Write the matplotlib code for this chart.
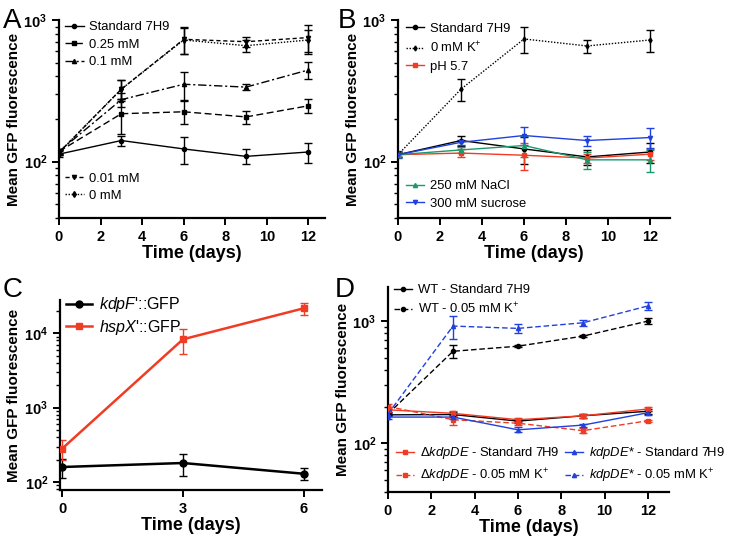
import matplotlib
matplotlib.use('Agg')
import matplotlib.pyplot as plt

plt.rcParams['font.family'] = ['Liberation Sans', 'DejaVu Sans']
plt.rcParams['mathtext.fontset'] = 'custom'
plt.rcParams['mathtext.rm'] = 'Liberation Sans'
plt.rcParams['mathtext.it'] = 'Liberation Sans:italic'
plt.rcParams['mathtext.bf'] = 'Liberation Sans:bold'

RED = '#f03c24'
BLUE = '#2040e0'
GREEN = '#1a9a6c'

days = [0, 3, 6, 9, 12]
days_c = [0, 3, 6]

# panel A - K+ concentrations
a_std = [113, 141, 123, 109, 117]
a_std_err = [5, 11, 26, 13, 19]
a_025 = [118, 218, 225, 207, 248]
a_025_err = [5, 60, 42, 22, 27]
a_01 = [118, 274, 352, 336, 444]
a_01_err = [5, 30, 80, 15, 58]
a_001 = [116, 325, 731, 703, 752]
a_001_err = [5, 50, 157, 60, 175]
a_0 = [116, 325, 723, 659, 723]
a_0_err = [5, 55, 150, 60, 130]

# panel B - other stresses
b_std = [112, 141, 123, 108, 117]
b_std_err = [5, 11, 26, 13, 19]
b_k0 = [112, 325, 735, 656, 723]
b_k0_err = [5, 58, 152, 70, 125]
b_ph = [112, 115, 111, 106, 113]
b_ph_err = [5, 7, 24, 8, 10]
b_nacl = [112, 121, 130, 103, 103]
b_nacl_err = [5, 6, 22, 14, 18]
b_suc = [112, 137, 153, 141, 148]
b_suc_err = [6, 6, 22, 12, 24]

# panel C - reporters
c_kdpf = [159, 180, 129]
c_kdpf_err = [45, 58, 23]
c_hspx = [280, 8300, 21700]
c_hspx_err = [85, 3000, 4000]

# panel D - strains
d_wt_std = [171, 172, 152, 168, 183]
d_wt_std_err = [5, 8, 6, 6, 8]
d_wt_k = [174, 566, 623, 753, 1000]
d_wt_k_err = [5, 70, 10, 10, 50]
d_dk_std = [188, 176, 156, 168, 191]
d_dk_std_err = [8, 8, 6, 6, 6]
d_dk_k = [200, 156, 146, 127, 153]
d_dk_k_err = [8, 15, 6, 6, 3]
d_kd_std = [164, 164, 129, 141, 178]
d_kd_std_err = [5, 6, 6, 4, 6]
d_kd_k = [174, 910, 871, 968, 1330]
d_kd_k_err = [5, 200, 70, 60, 100]

fig = plt.figure(figsize=(7.3, 5.37), dpi=100)
axA = fig.add_axes([0.0808, 0.594, 0.3644, 0.3687])
axB = fig.add_axes([0.5452, 0.594, 0.3726, 0.3687])
axC = fig.add_axes([0.0822, 0.0875, 0.359, 0.3538])
axD = fig.add_axes([0.5315, 0.0838, 0.385, 0.3818])


def series(ax, x, y, err, color, ls, marker, label, ms=3.5, lw=1.0):
    ax.errorbar(x, y, yerr=err, fmt='none', ecolor=color, elinewidth=1.0,
                capsize=3, capthick=1.0, zorder=2)
    ax.plot(x, y, color=color, ls=ls, lw=lw, marker=marker, ms=ms,
            label=label, zorder=3)


def style(ax, xticks, xlim, ylim):
    ax.set_yscale('log')
    ax.set_xlim(*xlim)
    ax.set_ylim(*ylim)
    ax.set_xticks(xticks)
    for s in ['top', 'right']:
        ax.spines[s].set_visible(False)
    for s in ['left', 'bottom']:
        ax.spines[s].set_linewidth(1.6)
    ax.tick_params(which='major', length=5, width=1.4, labelsize=10.5)
    ax.tick_params(which='minor', length=3, width=1.0)
    for lab in ax.get_xticklabels() + ax.get_yticklabels():
        lab.set_fontweight('bold')
    ax.set_xlabel('Time (days)', fontsize=13, fontweight='bold', labelpad=1)
    ax.set_ylabel('Mean GFP fluorescence', fontsize=11, fontweight='bold', labelpad=2)


leg_kw = dict(frameon=False, fontsize=9.4, handlelength=1.4, handletextpad=0.45,
              borderaxespad=0, labelspacing=0.4)

# A
series(axA, days, a_std, a_std_err, 'black', '-', 'o', 'Standard 7H9', ms=3)
series(axA, days, a_025, a_025_err, 'black', (0, (5, 2.5)), 's', '0.25 mM', ms=3)
series(axA, days, a_01, a_01_err, 'black', (0, (6, 2, 1.5, 2)), '^', '0.1 mM', ms=3)
series(axA, days, a_001, a_001_err, 'black', (0, (3, 2)), 'v', '0.01 mM', ms=3)
series(axA, days, a_0, a_0_err, 'black', (0, (1, 1.2)), 'd', '0 mM', ms=3)
style(axA, [0, 2, 4, 6, 8, 10, 12], (0, 12.8), (40, 1000))
h, l = axA.get_legend_handles_labels()
legA1 = axA.legend(h[:3], l[:3], loc='upper left', bbox_to_anchor=(0.004, 1.02), **leg_kw)
axA.add_artist(legA1)
axA.legend(h[3:], l[3:], loc='lower left', bbox_to_anchor=(0.004, 0.055), **leg_kw)

# B
series(axB, days, b_std, b_std_err, 'black', '-', 'o', 'Standard 7H9', ms=3)
series(axB, days, b_k0, b_k0_err, 'black', (0, (1, 1.2)), 'd', r'0 mM K$^{+}$', ms=2.5)
series(axB, days, b_ph, b_ph_err, RED, '-', 's', 'pH 5.7', ms=3)
series(axB, days, b_nacl, b_nacl_err, GREEN, '-', '^', '250 mM NaCl', ms=3)
series(axB, days, b_suc, b_suc_err, BLUE, '-', 'v', '300 mM sucrose', ms=3)
style(axB, [0, 2, 4, 6, 8, 10, 12], (0, 12.95), (40, 1000))
h, l = axB.get_legend_handles_labels()
legB1 = axB.legend(h[:3], l[:3], loc='upper left', bbox_to_anchor=(0.01, 1.012), **leg_kw)
axB.add_artist(legB1)
axB.legend(h[3:], l[3:], loc='lower left', bbox_to_anchor=(0.01, 0.015), **leg_kw)

# C
series(axC, days_c, c_kdpf, c_kdpf_err, 'black', '-', 'o', r"$\mathit{kdpF}$'::GFP", ms=5, lw=1.8)
series(axC, days_c, c_hspx, c_hspx_err, RED, '-', 's', r"$\mathit{hspX}$'::GFP", ms=5, lw=1.8)
style(axC, [0, 3, 6], (-0.05, 6.45), (78, 28000))
axC.legend(loc='upper left', bbox_to_anchor=(0.0, 1.058),
           **dict(leg_kw, fontsize=11.5, handlelength=1.6, labelspacing=0.2))

# D
series(axD, days, d_wt_std, d_wt_std_err, 'black', '-', 'o', 'WT - Standard 7H9', ms=3)
series(axD, days, d_wt_k, d_wt_k_err, 'black', (0, (4, 2)), 'o', r'WT - 0.05 mM K$^{+}$', ms=3)
series(axD, days, d_dk_std, d_dk_std_err, RED, '-', 's', r'$\Delta\mathit{kdpDE}$ - Standard 7H9', ms=3)
series(axD, days, d_dk_k, d_dk_k_err, RED, (0, (4, 2)), 's', r'$\Delta\mathit{kdpDE}$ - 0.05 mM K$^{+}$', ms=3)
series(axD, days, d_kd_std, d_kd_std_err, BLUE, '-', '^', r'$\mathit{kdpDE}$* - Standard 7H9', ms=3)
series(axD, days, d_kd_k, d_kd_k_err, BLUE, (0, (4, 2)), '^', r'$\mathit{kdpDE}$* - 0.05 mM K$^{+}$', ms=3)
style(axD, [0, 2, 4, 6, 8, 10, 12], (0, 12.97), (40, 1900))
h, l = axD.get_legend_handles_labels()
legD1 = axD.legend(h[:2], l[:2], loc='upper left', bbox_to_anchor=(0.003, 1.04), **leg_kw)
axD.add_artist(legD1)
axD.legend(h[2:], l[2:], loc='lower left', bbox_to_anchor=(0.01, 0.01), ncol=2,
           columnspacing=0.4, **leg_kw)

for lab, x, y in [('A', 0.004, 0.985), ('B', 0.462, 0.985), ('C', 0.004, 0.485), ('D', 0.458, 0.485)]:
    fig.text(x, y, lab, fontsize=20, va='top', ha='left')

fig.savefig('out.png', dpi=100)
